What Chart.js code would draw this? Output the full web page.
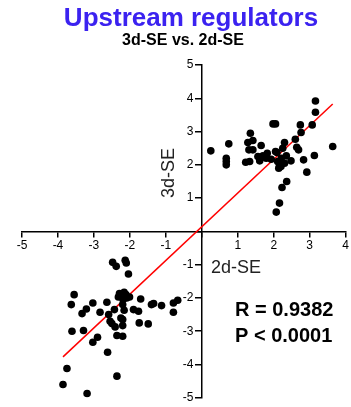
<!DOCTYPE html>
<html>
<head>
<meta charset="utf-8">
<script src="https://cdn.jsdelivr.net/npm/chart.js@4"></script>
<style>
  html, body { margin: 0; padding: 0; background: #fff; }
  #wrap { width: 351px; height: 407px; }
</style>
</head>
<body>
<div id="wrap"><canvas id="chart" width="351" height="407"></canvas></div>
<script>
// 2d-SE (x) vs 3d-SE (y)
var upX = [0.25, 0.75, 0.68, 0.68, 0.68, 1.35, 1.28, 1.42, 1.31, 1.42, 1.22, 1.33, 1.65, 1.56, 1.61, 1.70, 1.82, 1.79, 1.98, 2.05, 1.93, 2.09, 2.11, 2.16, 2.14, 2.21, 2.30, 2.25, 2.35, 2.30, 2.48, 2.60, 2.64, 2.69, 2.74, 2.76, 2.83, 2.92, 3.07, 3.16, 3.16, 3.13, 3.64, 2.36, 2.23, 2.16, 2.07, 2.20, 2.05];
var upY = [2.42, 2.63, 2.20, 2.10, 2.00, 2.95, 2.67, 2.73, 2.45, 2.45, 2.08, 2.10, 2.58, 2.25, 2.12, 2.27, 2.35, 2.20, 3.23, 3.23, 2.17, 2.37, 2.10, 2.00, 1.90, 2.20, 2.67, 2.50, 2.27, 2.05, 2.12, 2.77, 2.53, 2.45, 3.20, 2.97, 2.15, 1.78, 3.20, 3.58, 3.92, 2.28, 2.55, 1.50, 1.32, 0.85, 0.58, 1.95, 2.40];
var downX = [-2.48, -2.38, -2.13, -2.10, -2.04, -3.55, -3.63, -3.03, -3.21, -3.33, -2.64, -2.83, -2.59, -2.55, -2.50, -2.41, -2.43, -2.29, -2.32, -2.16, -2.11, -2.01, -2.19, -2.20, -2.16, -2.25, -2.20, -2.20, -2.36, -2.20, -1.90, -1.76, -1.70, -1.74, -1.49, -1.40, -1.34, -1.12, -0.79, -0.67, -0.79, -3.29, -3.61, -3.03, -2.90, -2.62, -3.75, -3.86, -3.19, -2.36, -2.09];
var downY = [-0.93, -1.05, -0.87, -0.95, -1.28, -1.90, -2.20, -2.15, -2.33, -2.47, -2.13, -2.43, -2.50, -2.70, -2.77, -2.87, -2.35, -1.87, -1.97, -1.83, -1.90, -1.97, -2.05, -2.20, -2.37, -2.60, -2.65, -2.83, -3.13, -3.15, -2.35, -2.40, -2.03, -2.75, -2.78, -2.20, -2.17, -2.23, -2.15, -2.07, -2.43, -2.98, -3.00, -3.33, -3.18, -3.63, -4.12, -4.60, -4.87, -4.35, -2.00];

// regression line ends
var fitX = [-3.86, 3.64];
var fitY = [-3.77, 3.83];

var xTicks = [-5, -4, -3, -2, -1, 0, 1, 2, 3, 4];
var yTicks = [-5, -4, -3, -2, -1, 0, 1, 2, 3, 4, 5];

var title = 'Upstream regulators';
var subtitle = '3d-SE vs. 2d-SE';
var xLabel = '2d-SE';
var yLabel = '3d-SE';
var statLines = ['R = 0.9382', 'P < 0.0001'];

var FONT = '"Liberation Sans", Arial, sans-serif';

function toPoints(xs, ys) {
  return xs.map((x, i) => ({ x: x, y: ys[i] }));
}

// titles, axis names and the stats text
var textPlugin = {
  id: 'texts',
  afterDraw(chart) {
    const ctx = chart.ctx;
    ctx.save();
    ctx.textBaseline = 'alphabetic';

    ctx.fillStyle = '#3b22f0';
    ctx.font = 'bold 26px ' + FONT;
    ctx.textAlign = 'center';
    ctx.fillText(title, 191, 26);

    ctx.fillStyle = '#000';
    ctx.font = 'bold 16px ' + FONT;
    ctx.fillText(subtitle, 183, 45);

    ctx.fillStyle = '#222';
    ctx.font = '18px ' + FONT;
    ctx.textAlign = 'left';
    ctx.fillText(xLabel, 211, 273);

    ctx.save();
    ctx.translate(174, 173);
    ctx.rotate(-Math.PI / 2);
    ctx.textAlign = 'center';
    ctx.fillText(yLabel, 0, 0);
    ctx.restore();

    ctx.fillStyle = '#000';
    ctx.font = 'bold 20px ' + FONT;
    ctx.textAlign = 'left';
    ctx.fillText(statLines[0], 235, 316);
    ctx.fillText(statLines[1], 235, 342);
    ctx.restore();
  }
};

function hideZero(v) {
  return v === 0 ? '' : v;
}

// y labels sit right on the axis when it is centred, pad them off the tick marks
function yLabelText(v) {
  return v === 0 ? '' : v + '\u2002\u2009';
}

new Chart(document.getElementById('chart'), {
  type: 'scatter',
  data: {
    datasets: [
      {
        data: toPoints(upX, upY).concat(toPoints(downX, downY)),
        backgroundColor: '#000',
        borderWidth: 0,
        pointRadius: 3.8
      },
      {
        type: 'line',
        data: toPoints(fitX, fitY),
        borderColor: '#ff0000',
        borderWidth: 1.5,
        pointRadius: 0,
        fill: false
      }
    ]
  },
  options: {
    responsive: false,
    animation: false,
    layout: { padding: { left: 22, right: 4, top: 65, bottom: 8 } },
    plugins: {
      legend: { display: false },
      tooltip: { enabled: false }
    },
    scales: {
      x: {
        type: 'linear',
        min: -5,
        max: 4,
        position: { y: 0 },
        afterBuildTicks: s => { s.ticks = xTicks.map(v => ({ value: v })); },
        afterFit: s => { s.height = 0; },
        grid: { drawOnChartArea: false, drawTicks: true, tickLength: 5, color: '#000', lineWidth: 1.5 },
        border: { display: true, color: '#000', width: 1.5 },
        ticks: { callback: hideZero, color: '#000', padding: 2, font: { family: FONT, size: 12 } }
      },
      y: {
        type: 'linear',
        min: -5,
        max: 5,
        position: { x: 0 },
        afterBuildTicks: s => { s.ticks = yTicks.map(v => ({ value: v })); },
        afterFit: s => { s.width = 0; },
        grid: { drawOnChartArea: false, drawTicks: true, tickLength: 6, color: '#000', lineWidth: 1.5 },
        border: { display: true, color: '#000', width: 1.5 },
        ticks: { callback: yLabelText, color: '#000', padding: 2, font: { family: FONT, size: 12 } }
      }
    }
  },
  plugins: [textPlugin]
});
</script>
</body>
</html>
